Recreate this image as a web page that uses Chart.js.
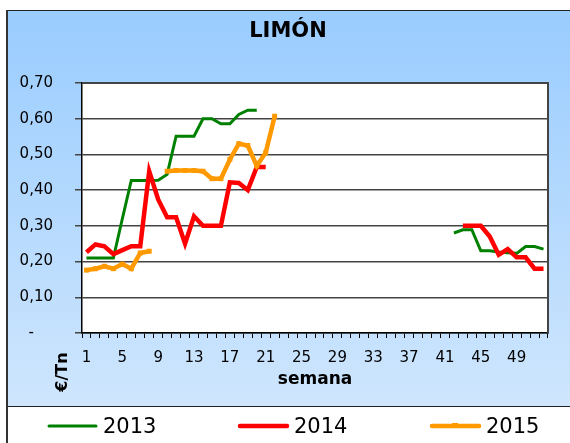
<!DOCTYPE html>
<html>
<head>
<meta charset="utf-8">
<script src="https://cdn.jsdelivr.net/npm/chart.js"></script>
<style>
  html, body { margin: 0; padding: 0; background: #fff; }
  canvas { display: block; }
</style>
</head>
<body>
<canvas id="chart" width="570" height="443"></canvas>
<script>
// semanas del año (eje x)
const weeks = ['1','2','3','4','5','6','7','8','9','10','11','12','13','14','15','16','17','18','19','20',
  '21','22','23','24','25','26','27','28','29','30','31','32','33','34','35','36','37','38','39','40',
  '41','42','43','44','45','46','47','48','49','50','51','52'];
const years = ['2013', '2014', '2015'];
const colors = ['#008000', '#ff0000', '#ff9900'];
const yTicks = [0, 0.1, 0.2, 0.3, 0.4, 0.5, 0.6, 0.7];

// €/Tn por semana, null = sin cotización
const precios2013 = [0.21, 0.21, 0.21, 0.21, 0.32, 0.427, 0.427, 0.427, 0.428, 0.444,
  0.551, 0.551, 0.551, 0.60, 0.60, 0.586, 0.586, 0.612, 0.624, 0.624,
  null, null, null, null, null, null, null, null, null, null,
  null, null, null, null, null, null, null, null, null, null,
  null, 0.28, 0.289, 0.289, 0.23, 0.23, 0.227, 0.225, 0.223, 0.242,
  0.242, 0.235];
const precios2014 = [0.226, 0.248, 0.243, 0.221, 0.232, 0.243, 0.243, 0.453, 0.374, 0.324,
  0.324, 0.25, 0.327, 0.30, 0.30, 0.30, 0.422, 0.42, 0.40, 0.465,
  0.465, null, null, null, null, null, null, null, null, null,
  null, null, null, null, null, null, null, null, null, null,
  null, null, 0.30, 0.30, 0.30, 0.27, 0.219, 0.235, 0.212, 0.212,
  0.18, 0.18];
const precios2015 = [0.176, 0.18, 0.187, 0.18, 0.193, 0.18, 0.224, 0.229, null, 0.453,
  0.455, 0.455, 0.455, 0.453, 0.432, 0.432, 0.486, 0.53, 0.525, 0.468,
  0.505, 0.607, null, null, null, null, null, null, null, null,
  null, null, null, null, null, null, null, null, null, null,
  null, null, null, null, null, null, null, null, null, null,
  null, null];

Chart.defaults.font.family = "'DejaVu Sans', Verdana, sans-serif";
Chart.defaults.font.size = 15;
Chart.defaults.color = '#000';

const legendX = [47, 238, 430];

const framePlugin = {
  id: 'frame',
  afterLayout(chart) {
    // las etiquetas del eje y se salen del relleno izquierdo; no recortarlas
    chart.scales.y.left = 0;
  },
  beforeDraw(chart) {
    const {ctx, chartArea: a} = chart;
    ctx.save();
    ctx.fillStyle = '#fff';
    ctx.fillRect(0, 0, chart.width, chart.height);
    const g = ctx.createLinearGradient(0, 10, 0, 406);
    g.addColorStop(0, '#99ccff');
    g.addColorStop(1, '#cfe6fd');
    ctx.fillStyle = g;
    ctx.fillRect(6, 10, chart.width - 6, 396);
    ctx.fillStyle = '#fff';
    ctx.fillRect(a.left, a.top, a.right - a.left, a.bottom - a.top);
    ctx.strokeStyle = '#222';
    ctx.lineWidth = 1;
    ctx.beginPath();
    ctx.moveTo(6, 10.5); ctx.lineTo(chart.width, 10.5);
    ctx.moveTo(6, 406.5); ctx.lineTo(chart.width, 406.5);
    ctx.stroke();
    ctx.strokeStyle = '#333';
    ctx.lineWidth = 2;
    ctx.beginPath();
    ctx.moveTo(7, 10); ctx.lineTo(7, chart.height);
    ctx.stroke();
    ctx.restore();
  },
  beforeDatasetsDraw(chart) {
    const {ctx, chartArea: a} = chart;
    ctx.save();
    ctx.strokeStyle = '#444';
    ctx.lineWidth = 2;
    ctx.beginPath();
    ctx.moveTo(a.left, a.top);
    ctx.lineTo(a.right, a.top);
    ctx.lineTo(a.right, a.bottom);
    ctx.stroke();
    ctx.restore();
  },
  afterDraw(chart) {
    const ctx = chart.ctx;
    ctx.save();
    // unidad del eje y, girada
    ctx.translate(63, 372);
    ctx.rotate(-Math.PI / 2);
    ctx.font = "bold 16px 'DejaVu Sans'";
    ctx.fillStyle = '#000';
    ctx.textAlign = 'center';
    ctx.textBaseline = 'middle';
    ctx.fillText('€/Tn', 0, 0);
    ctx.restore();

    // leyenda
    ctx.save();
    ctx.font = "21px 'DejaVu Sans'";
    ctx.textBaseline = 'middle';
    ctx.fillStyle = '#000';
    chart.data.datasets.forEach((ds, i) => {
      const x = legendX[i];
      ctx.strokeStyle = ds.borderColor;
      ctx.lineWidth = ds.borderWidth;
      ctx.lineCap = 'round';
      ctx.beginPath();
      ctx.moveTo(x + 2, 426);
      ctx.lineTo(x + 49, 426);
      ctx.stroke();
      if (ds.pointRadius > 0) {
        ctx.fillStyle = ds.borderColor;
        ctx.fillRect(x + 22, 423, 6, 5);
      }
      ctx.fillStyle = '#000';
      ctx.fillText(ds.label, x + 56, 428);
    });
    ctx.restore();
  }
};

new Chart(document.getElementById('chart'), {
  type: 'line',
  data: {
    labels: weeks,
    datasets: [
      {
        label: years[0], data: precios2013, borderColor: colors[0], backgroundColor: colors[0],
        borderWidth: 3, pointRadius: 0, tension: 0, spanGaps: false, order: 3
      },
      {
        label: years[1], data: precios2014, borderColor: colors[1], backgroundColor: colors[1],
        borderWidth: 4.5, pointRadius: 0, tension: 0, spanGaps: false, order: 2
      },
      {
        label: years[2], data: precios2015, borderColor: colors[2], backgroundColor: colors[2],
        borderWidth: 4.5, pointRadius: 3.5, pointStyle: 'rect', pointBorderWidth: 0,
        pointBackgroundColor: colors[2], tension: 0, spanGaps: false, order: 1
      }
    ]
  },
  options: {
    responsive: false,
    animation: false,
    layout: { padding: { left: 28, right: 22, top: 0, bottom: 35 } },
    plugins: {
      legend: { display: false },
      tooltip: { enabled: false },
      title: {
        display: true,
        text: 'LIMÓN',
        color: '#000',
        font: { size: 21, weight: 'bold' },
        padding: { top: 19, bottom: 38.8 }
      }
    },
    scales: {
      x: {
        offset: true,
        grid: { drawOnChartArea: false, drawTicks: true, tickLength: 5, color: '#000', offset: true },
        border: { color: '#000', width: 1.5 },
        ticks: {
          autoSkip: false, maxRotation: 0, minRotation: 0, padding: 11,
          callback: (v, i) => i % 4 === 0 ? weeks[i] : ''
        },
        title: {
          display: true, text: 'semana', color: '#000',
          font: { size: 17, weight: 'bold' },
          padding: { top: 0, bottom: 18 }
        },
        afterFit: s => { s.height = 75; }
      },
      y: {
        min: 0,
        max: 0.7,
        afterBuildTicks: s => { s.ticks = yTicks.map(v => ({ value: v })); },
        grid: { color: '#444', lineWidth: 1.5, tickLength: 7, drawTicks: true },
        border: { color: '#000', width: 1.5 },
        ticks: {
          padding: 22,
          callback: v => v === 0 ? '-    ' : v.toFixed(2).replace('.', ',')
        },
        afterFit: s => { s.width = 54; }
      }
    }
  },
  plugins: [framePlugin]
});
</script>
</body>
</html>
